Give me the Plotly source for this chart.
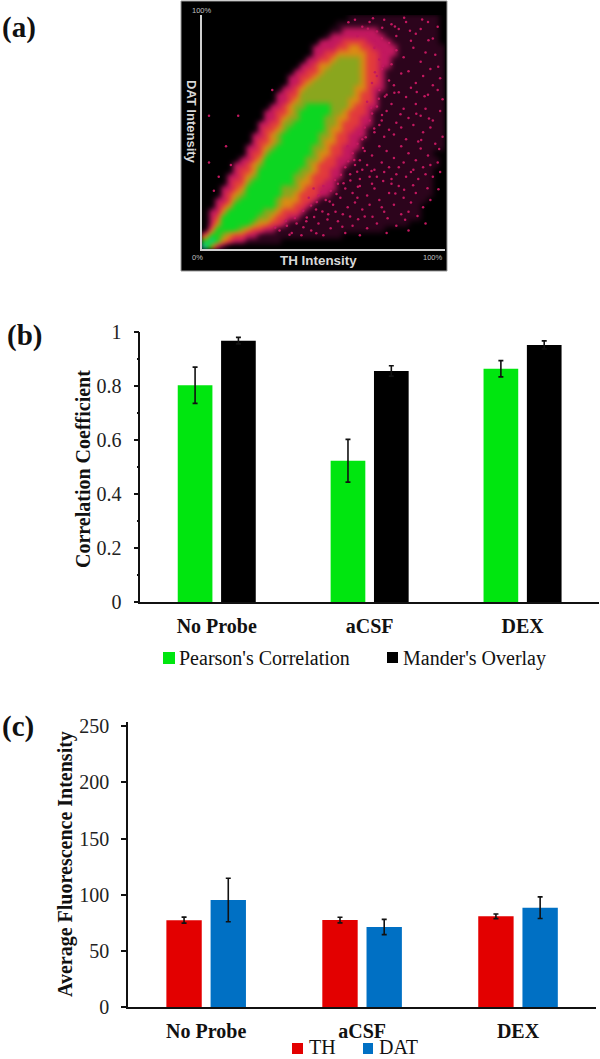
import plotly.graph_objects as go

# ---------- panel (a): density levels, cell by cell (top row = 100 %)
density_rows = [
    "0000000000 0000000000 0000 111111111111111 0",
    "0000000000 0000000000 00 11111111111111111 0",
    "0000000000 0000000000 0 11 222222 1111111111 0",
    "0000000000 0000000000 1 222222222 111111111 0",
    "0000000000 000000000 2222 3333 2222 11111111 0",
    "0000000000 00000000 2222 33 44 33 2222 11111111",
    "0000000000 00000000 22 33 44444 33 222 11111111",
    "0000000000 0000000 22 33 4 5555 4 33 22 111111111",
    "0000000000 000000 22 3 44 55555 4 33 22 111111111",
    "0000000000 00000 22 33 4 555555 4 33 2 1111111111",
    "0000000000 0000 22 33 4 5555555 4 33 2 1111111111",
    "0000000000 0000 22 3 4 55555555 4 33 2 1111111111",
    "0000000000 000 22 3 4 55555555 44 3 22 1111111111",
    "0000000000 00 22 33 555555555 4 33 2 11111111111",
    "0000000000 00 22 3 4 55555555 44 33 2 11111111111",
    "0000000000 0 22 3 4 55 6666 555 4 33 22 11111111111",
    "0000000000 22 33 4 5 66666 55 4 333 2 111111111111",
    "0000000000 22 3 4 55 6666 55 44 33 22 111111111111",
    "000000000 22 33 55 66666 55 4 333 22 111111111111",
    "000000000 2 33 4 5 666666 5 44 33 22 1111111111111",
    "00000000 22 3 4 5 666666 55 4 33 222 1111111111111",
    "00000000 2 33 4 5 666666 5 44 33 22 11111111111111",
    "0000000 22 3 4 5 666666 55 4 33 222 11111111111111",
    "0000000 2 33 5 6666666 5 44 33 22 1111111111111 00",
    "000000 22 3 4 6666666 55 4 33 222 11111111111111 0",
    "00000 22 3 4 5 6666666 5 4 333 22 111111111111111 0",
    "00000 2 33 4 6666666 55 4 33 22 111111111111111 00",
    "0000 22 3 4 5 666666 55 4 333 22 111111111111111 00",
    "0000 2 33 5 6666666 5 44 33 22 1111111111111111 00",
    "000 22 3 4 666666 555 4 33 222 1111111111111111 00",
    "000 2 3 4 5 666666 55 4 333 22 11111111111111111 00",
    "00 22 3 5 666666 5 444 33 2 111111111111111111 000",
    "00 2 3 4 6666666 5 44 33 2 111111111111111111 0000",
    "0 22 4 666666 55 4 333 2 1111111111111111111 0000",
    "0 2 3 666666 55 4 33 22 11111111111111111111 0000",
    "0 2 4 66666 5 44 33 2 11111111111111111111 000000",
    "0 3 6666 5 4 33 22 111111111111111111 0000000000",
    "3 66 5 4 33 22 11111111111111 00000000000000000",
    "6 7 6 4 3 22 111111 000000000000000000000000000",
    "7 5 2 1 0000000000000000000000000000000000000000",
]
density_x = [(i + 0.5) * 2.5 for i in range(40)]
density_y = [100 - (j + 0.5) * 2.5 for j in range(40)]
density = [[int(c) for c in r.replace(" ", "").ljust(40, "0")[:40]] for r in density_rows]

# isolated pixels in the sparse part of the cytofluorogram (% of axis)
outlier_x = [63, 66, 69, 72, 75, 78, 81, 84, 88, 93,
             64, 68, 71, 74, 77, 80, 86, 90, 95, 97,
             71, 73, 75, 78, 80, 83, 85, 87, 90, 92,
             94, 96, 98, 72, 74, 77, 79, 82, 88, 91,
             70, 73, 76, 81, 84, 86, 93, 95, 97, 99,
             68, 70, 72, 74, 76, 78, 80, 83, 85, 88,
             90, 92, 95, 98, 67, 69, 71, 73, 75, 77,
             79, 82, 84, 87, 89, 91, 94, 96, 99, 66,
             60, 62, 64, 65, 67, 68, 70, 71, 73, 74,
             76, 77, 79, 80, 82, 83, 85, 86, 88, 90,
             91, 93, 95, 97, 59, 61, 63, 65, 66, 69,
             72, 75, 78, 81, 84, 87, 89, 92, 94, 98,
             46, 48, 50, 51, 53, 54, 56, 57, 59, 60,
             62, 63, 65, 66, 68, 69, 71, 73, 75, 77,
             79, 81, 83, 85, 88, 91, 94, 44, 47, 52,
             55, 58, 61, 64, 67, 70, 74, 78, 82, 86,
             32, 35, 37, 39, 41, 43, 45, 48, 50, 53,
             56, 59, 62, 65, 68, 72, 76, 80, 85, 92,
             3, 15, 3, 7, 29, 5, 10, 12,
             74.5, 72.8, 71.2, 69.6, 74.1, 67.4, 70.9, 64.8, 62.7, 66.3,
             60.2, 69.8, 63.9, 57.2, 54.8, 58.3, 61.1, 64.2, 49.2, 52.6,
             55.4, 47.3, 44.9, 41.7, 49.6, 43.2, 38.3, 46.2, 34.6, 30.2,
             36.1, 41.8, 51.7, 47.1, 57.8, 64.3, 70.2, 76.4, 83.6, 88.7,
             97.3, 92.8, 86.9, 83.2, 79.6, 74.6, 90.2, 97.6, 93.4, 88.2,
             81.7, 75.3, 79.2, 88.4, 91.6, 97.2, 93.2, 85.6, 79.4, 74.2,
             68.3, 70.4, 83.2, 90.6, 60.3]
outlier_y = [98, 95, 97, 93, 98, 96, 94, 97, 92, 97,
             91, 92, 89, 90, 88, 91, 89, 94, 90, 95,
             86, 81, 84, 79, 85, 82, 76, 86, 80, 84,
             77, 83, 73, 74, 77, 72, 70, 75, 71, 74,
             71, 68, 66, 67, 65, 69, 66, 70, 68, 64,
             63, 58, 61, 55, 59, 62, 54, 60, 56, 62,
             57, 60, 55, 59, 52, 55, 50, 53, 48, 51,
             49, 52, 47, 53, 46, 50, 52, 45, 48, 47,
             44, 41, 45, 38, 42, 36, 40, 34, 44, 37,
             42, 35, 39, 32, 44, 37, 41, 33, 38, 43,
             35, 40, 31, 37, 35, 32, 36, 30, 34, 31,
             31, 33, 30, 35, 31, 34, 30, 32, 36, 33,
             26, 23, 27, 21, 25, 19, 28, 22, 26, 18,
             24, 20, 27, 17, 23, 19, 26, 21, 16, 24,
             19, 27, 22, 16, 24, 18, 21, 22, 17, 15,
             16, 15, 14, 22, 14, 28, 18, 28, 15, 20,
             8, 10, 7, 11, 6, 12, 8, 11, 6, 9,
             12, 7, 10, 6, 9, 11, 7, 10, 8, 11,
             57, 57, 37, 31, 68, 25, 44, 36,
             78.2, 64.3, 75.6, 60.4, 57.3, 47.8, 51.6, 49.3, 38.1, 43.2,
             37.6, 33.4, 33.1, 31.8, 29.6, 28.2, 29.4, 26.7, 24.3, 20.4,
             23.6, 20.2, 18.7, 16.4, 16.1, 13.6, 13.4, 13.8, 12.2, 9.3,
             6.2, 9.4, 12.7, 6.9, 9.6, 12.8, 13.9, 13.2, 12.6, 14.2,
             25.6, 26.1, 27.3, 25.4, 23.8, 29.1, 46.7, 42.8, 55.8, 57.9,
             57.6, 65.2, 66.8, 67.1, 65.3, 77.9, 89.2, 93.3, 95.1, 94.6,
             94.1, 98.6, 98.8, 98.1, 96.9]

# ---------- panel (b)
categories = ["No Probe", "aCSF", "DEX"]
pearson = [0.802, 0.523, 0.863]
pearson_err = [0.067, 0.079, 0.030]
manders = [0.967, 0.855, 0.951]
manders_err = [0.012, 0.019, 0.015]

# ---------- panel (c)
th = [77.5, 77.6, 80.9]
th_err = [2.7, 2.5, 2.1]
dat = [95.4, 71.4, 88.6]
dat_err = [19.3, 6.8, 9.6]

W, H = 600, 1059
SERIF = "Liberation Serif"
SANS = "Liberation Sans"


def px(x):
    return x / W


def py(y):
    return 1 - y / H


fig = go.Figure()

fig.add_trace(go.Heatmap(
    x=density_x, y=density_y, z=density, zmin=0, zmax=7, zsmooth="best", showscale=False,
    colorscale=[[0, "#000000"], [1 / 7, "#2c041c"], [2 / 7, "#c2185f"], [3 / 7, "#e23a3c"],
                [4 / 7, "#dc8a14"], [5 / 7, "#8aa61e"], [6 / 7, "#0cd622"], [1, "#22c4a0"]],
    xaxis="x3", yaxis="y3",
))
fig.add_trace(go.Scatter(
    x=outlier_x, y=outlier_y, mode="markers", marker=dict(size=2.5, color="#c2185f", line=dict(width=0)),
    xaxis="x3", yaxis="y3", showlegend=False,
))


def bars(name, vals, errs, color, xa, ya):
    fig.add_trace(go.Bar(
        name=name, x=categories, y=vals, marker=dict(color=color, line=dict(width=0)),
        error_y=dict(type="data", array=errs, color="#111111", thickness=1.6, width=2.5),
        xaxis=xa, yaxis=ya, showlegend=False,
    ))


bars("Pearson's Correlation", pearson, pearson_err, "#00e60f", "x", "y")
bars("Mander's Overlay", manders, manders_err, "#000000", "x", "y")
bars("TH", th, th_err, "#e30000", "x2", "y2")
bars("DAT", dat, dat_err, "#0070c4", "x2", "y2")

shapes = [dict(type="rect", xref="paper", yref="paper", x0=px(181), x1=px(447), y0=py(271), y1=py(1),
               fillcolor="#000000", line=dict(color="#9a9a9a", width=1), layer="below")]
for x0, x1, y0, y1, color in [(163, 175, 652, 664, "#00e60f"), (387, 398, 652, 663, "#000000"),
                              (292, 303, 1043, 1054, "#e30000"), (363, 373, 1043, 1054, "#0070c4")]:
    shapes.append(dict(type="rect", xref="paper", yref="paper", x0=px(x0), x1=px(x1), y0=py(y1), y1=py(y0),
                       fillcolor=color, line=dict(width=0)))

ann = []


def text(s, x, y, size, family=SERIF, color="#111111", bold=False, angle=0, anchor="center"):
    ann.append(dict(text=f"<b>{s}</b>" if bold else s, x=px(x), y=py(y), xref="paper", yref="paper",
                    xanchor=anchor, yanchor="middle", showarrow=False, textangle=angle,
                    font=dict(family=family, size=size, color=color)))


text("(a)", 19, 28, 29, bold=True)
text("(b)", 24, 335, 29, bold=True)
text("(c)", 18, 726, 29, bold=True)
text("DAT Intensity", 191, 122, 13, family=SANS, color="#d8d8d8", bold=True, angle=90)
text("TH Intensity", 318, 260, 13.4, family=SANS, color="#d8d8d8", bold=True)
text("0%", 197, 257, 7.5, family=SANS, color="#c0c0c0")
text("100%", 433, 257, 7.5, family=SANS, color="#c0c0c0")
text("100%", 202, 11, 7.5, family=SANS, color="#c0c0c0")
text("Correlation Coefficient", 83, 469, 20, bold=True, angle=-90)
text("Average Fluorescence Intensity", 65, 864, 20, bold=True, angle=-90)
text("Pearson's Correlation", 177, 658, 20, anchor="left")
text("Mander's Overlay", 401, 658, 20, anchor="left")
text("TH", 307, 1047, 20, anchor="left")
text("DAT", 377, 1047, 20, anchor="left")

cat_axis = dict(type="category", range=[-0.5, 2.5], showline=True, linecolor="#111111", linewidth=1.5,
                ticks="", ticklabelstandoff=5, showgrid=False, zeroline=False, fixedrange=True,
                tickfont=dict(family=SERIF, size=20, color="#111111", weight="bold"))
val_axis = dict(showline=True, linecolor="#111111", linewidth=1.5, ticks="outside", ticklen=5, tickwidth=1.5,
                tickcolor="#111111", showgrid=False, zeroline=False, fixedrange=True, ticklabelstandoff=8,
                tickfont=dict(family=SERIF, size=20, color="#222222"))

fig.update_layout(
    width=W, height=H, autosize=False, margin=dict(l=0, r=0, t=0, b=0, autoexpand=False),
    paper_bgcolor="#ffffff", plot_bgcolor="#ffffff", showlegend=False,
    barmode="group", bargap=0.433, bargroupgap=0.2,
    shapes=shapes, annotations=ann,
    xaxis=dict(cat_axis, domain=[px(140.3), px(599)], anchor="y"),
    yaxis=dict(val_axis, domain=[py(602.3), py(331.7)], range=[0, 1], anchor="x",
               tickvals=[0, 0.2, 0.4, 0.6, 0.8, 1], ticktext=["0", "0.2", "0.4", "0.6", "0.8", "1"],
               minor=dict(tickvals=[0.1, 0.3, 0.5, 0.7, 0.9], ticks="outside", ticklen=2, tickwidth=1.5,
                          tickcolor="#111111")),
    xaxis2=dict(cat_axis, domain=[px(128.2), px(596)], anchor="y2", linewidth=2),
    yaxis2=dict(val_axis, domain=[py(1007.3), py(721.6)], range=[0, 254], anchor="x2", linewidth=2,
                tickvals=[0, 50, 100, 150, 200, 250]),
    xaxis3=dict(domain=[px(201.7), px(445)], range=[0, 100], anchor="y3", showline=True, linecolor="#cfcfcf",
                linewidth=1.5, showticklabels=False, ticks="", showgrid=False, zeroline=False, fixedrange=True),
    yaxis3=dict(domain=[py(249.3), py(15)], range=[0, 100], anchor="x3", showline=True, linecolor="#cfcfcf",
                linewidth=1.5, showticklabels=False, ticks="", showgrid=False, zeroline=False, fixedrange=True),
)

fig.write_html("out.html", config={"displayModeBar": False},
               post_script="document.body.style.margin='0';document.documentElement.style.overflow='hidden';"
                           "document.querySelectorAll('g.hm image').forEach(function(i){i.style.filter='blur(2px)';});")
